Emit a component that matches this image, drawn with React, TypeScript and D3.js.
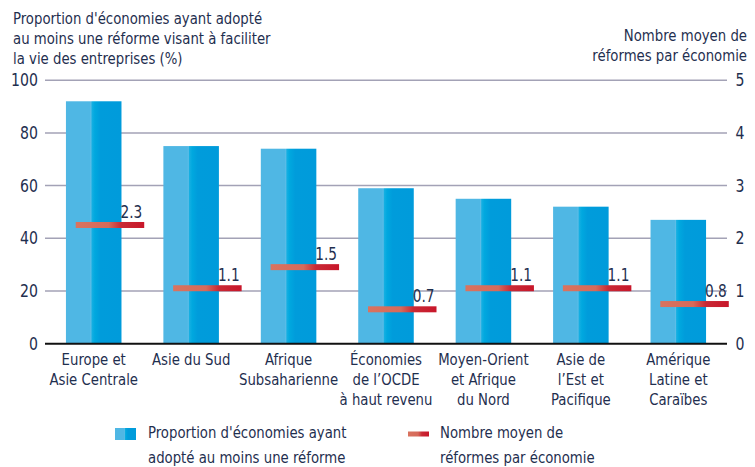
import React from "react";
import * as d3 from "d3";

const categories: string[][] = [
  ["Europe et", "Asie Centrale"],
  ["Asie du Sud"],
  ["Afrique", "Subsaharienne"],
  ["Économies", "de l’OCDE", "à haut revenu"],
  ["Moyen-Orient", "et Afrique", "du Nord"],
  ["Asie de", "l’Est et", "Pacifique"],
  ["Amérique", "Latine et", "Caraïbes"],
];
const proportionValues = [92, 75, 74, 59, 55, 52, 47];
const averageReforms = [2.3, 1.1, 1.5, 0.7, 1.1, 1.1, 0.8];
const leftTicks = [0, 20, 40, 60, 80, 100];
const rightTicks = [0, 1, 2, 3, 4, 5];
const leftTitle = [
  "Proportion d'économies ayant adopté",
  "au moins une réforme visant à faciliter",
  "la vie des entreprises (%)",
];
const rightTitle = ["Nombre moyen de", "réformes par économie"];
const legendBar = ["Proportion d'économies ayant", "adopté au moins une réforme"];
const legendLine = ["Nombre moyen de", "réformes par économie"];

const W = 755;
const H = 467;
const FONT = "'DejaVu Sans Condensed', 'Liberation Sans Narrow', sans-serif";
const TEXT = "#1f2f4f";
const SX = 0.895;

type TProps = {
  x: number;
  y: number;
  size: number;
  anchor?: "start" | "middle" | "end";
  children: React.ReactNode;
};
function T({ x, y, size, anchor = "start", children }: TProps) {
  return (
    <text
      transform={`translate(${x},${y}) scale(${SX},1)`}
      textAnchor={anchor}
      fontSize={size}
      fill={TEXT}
    >
      {children}
    </text>
  );
}

export default function App() {
  const x = d3
    .scaleBand<number>()
    .domain(d3.range(categories.length))
    .range([45, 727])
    .paddingInner(0.43)
    .paddingOuter(0.215);
  const yL = d3.scaleLinear().domain([0, 100]).range([343.7, 80.2]);
  const yR = d3.scaleLinear().domain([0, 5]).range([343.7, 80.2]);
  const bw = x.bandwidth();

  return (
    <div style={{ position: "absolute", left: 0, top: 0 }}>
      <svg width={W} height={H} style={{ display: "block", fontFamily: FONT }}>
        <defs>
          <linearGradient id="barGrad" x1="0" x2="1" y1="0" y2="0">
            <stop offset="0" stopColor="#4fb7e4" />
            <stop offset="0.43" stopColor="#4fb7e4" />
            <stop offset="0.45" stopColor="#5cbde7" />
            <stop offset="0.47" stopColor="#14afe2" />
            <stop offset="0.52" stopColor="#00a8df" />
            <stop offset="0.62" stopColor="#009cdb" />
            <stop offset="1" stopColor="#009bdb" />
          </linearGradient>
          <linearGradient id="lineGrad" x1="0" x2="1" y1="0" y2="0">
            <stop offset="0" stopColor="#d9735f" />
            <stop offset="0.48" stopColor="#d66a5a" />
            <stop offset="0.66" stopColor="#c92a35" />
            <stop offset="1" stopColor="#c8162a" />
          </linearGradient>
        </defs>

        {leftTicks
          .filter((t) => t > 0)
          .map((t) => (
            <line
              key={"g" + t}
              x1={45}
              x2={727}
              y1={yL(t)}
              y2={yL(t)}
              stroke="#a3a2b6"
              strokeWidth={1.5}
            />
          ))}

        {proportionValues.map((v, i) => (
          <rect
            key={"b" + i}
            x={x(i)!}
            y={yL(v)}
            width={bw}
            height={yL(0) - yL(v)}
            fill="url(#barGrad)"
          />
        ))}

        <line x1={45} x2={727} y1={yL(0)} y2={yL(0)} stroke="#111" strokeWidth={2} />

        {averageReforms.map((v, i) => {
          const c = x(i)! + bw / 2;
          const x0 = c - 18;
          const x1 = c + 50.5;
          return (
            <g key={"m" + i}>
              <rect x={x0} y={yR(v) - 0.5} width={x1 - x0} height={6} fill="url(#lineGrad)" />
              <T x={x1 - 2} y={yR(v) - 4.5} size={17} anchor="end">
                {v.toFixed(1)}
              </T>
            </g>
          );
        })}

        {leftTicks.map((t) => (
          <T key={"lt" + t} x={38} y={yL(t) + 6} size={17.5} anchor="end">
            {t}
          </T>
        ))}
        {rightTicks.map((t) => (
          <T key={"rt" + t} x={740} y={yR(t) + 6} size={17.5} anchor="middle">
            {t}
          </T>
        ))}

        {leftTitle.map((s, i) => (
          <T key={"lti" + i} x={13} y={24 + i * 20} size={16.5}>
            {s}
          </T>
        ))}
        {rightTitle.map((s, i) => (
          <T key={"rti" + i} x={747} y={41 + i * 20} size={16.5} anchor="end">
            {s}
          </T>
        ))}

        {categories.map((lines, i) =>
          lines.map((s, j) => (
            <T key={"c" + i + "-" + j} x={x(i)! + bw / 2} y={365 + j * 20} size={16.5} anchor="middle">
              {s}
            </T>
          ))
        )}

        <rect x={115} y={428} width={21} height={12} fill="url(#barGrad)" />
        {legendBar.map((s, i) => (
          <T key={"lb" + i} x={148} y={438 + i * 25} size={16.5}>
            {s}
          </T>
        ))}
        <rect x={408} y={431.5} width={21} height={5} fill="url(#lineGrad)" />
        {legendLine.map((s, i) => (
          <T key={"ll" + i} x={440} y={438 + i * 25} size={16.5}>
            {s}
          </T>
        ))}
      </svg>
    </div>
  );
}
